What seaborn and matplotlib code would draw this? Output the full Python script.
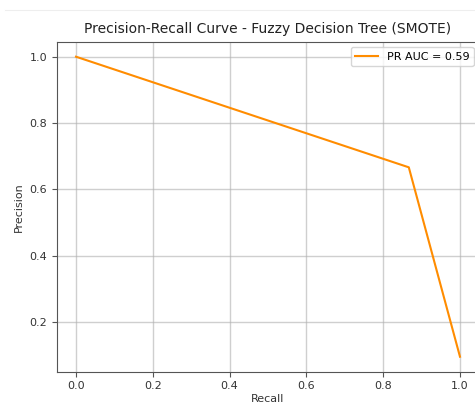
import matplotlib
matplotlib.use("Agg")
import matplotlib.pyplot as plt
import seaborn as sns
import pandas as pd
from matplotlib.lines import Line2D

recall = [0.0, 0.8667, 1.0]
precision = [1.0, 0.6667, 0.096]
label = "PR AUC = 0.59"
title = "Precision-Recall Curve - Fuzzy Decision Tree (SMOTE)"

df = pd.DataFrame({"Recall": recall, "Precision": precision})

fig = plt.figure(figsize=(4.75, 4.05), dpi=100)
ax = fig.add_axes([0.1196, 0.0822, 0.8892, 0.8148])
sns.lineplot(data=df, x="Recall", y="Precision", ax=ax, color="darkorange",
             label=label, sort=False, estimator=None, linewidth=1.5)
ax.set_title(title, fontsize=10, color="#222222")
ax.set_xlabel("Recall", fontsize=8, color="#333333", labelpad=2)
ax.set_ylabel("Precision", fontsize=8, color="#333333")
ax.tick_params(labelsize=8, labelcolor="#333333", color="#555555")
for s in ax.spines.values():
    s.set_color("#555555")
ax.grid(True, color="#b0b0b0", alpha=0.6, linewidth=1.0)
ax.legend(loc="upper right", fontsize=8)
fig.add_artist(Line2D([0.01, 1.0], [0.975, 0.975], color="#eeeeee", linewidth=0.8))
fig.savefig("out.png", dpi=100)
